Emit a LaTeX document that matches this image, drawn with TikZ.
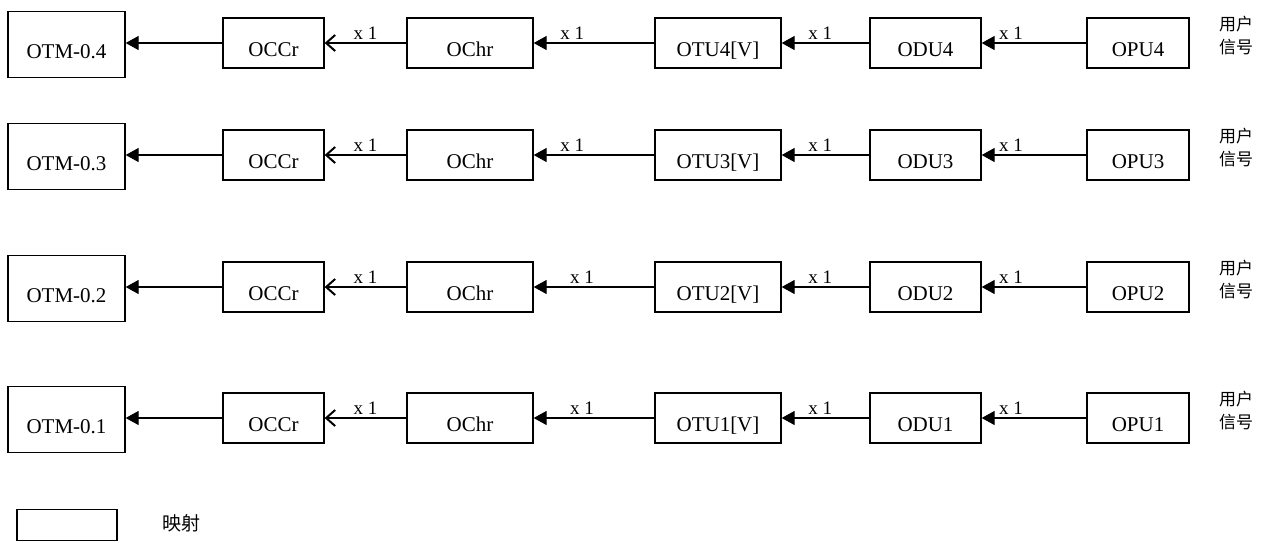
\documentclass[tikz,border=0pt]{standalone}
\usepackage{fontspec}
\setmainfont{Liberation Serif}
\newfontfamily\cjk{Noto Sans CJK SC}
\usetikzlibrary{arrows.meta}
\begin{document}
\begin{tikzpicture}[x=1pt,y=-1pt,
  box/.style={draw, line width=1.3pt, minimum height=50pt, inner sep=0pt,
    text height=27pt, text depth=0pt,
    font=\fontsize{21}{24}\selectfont},
  bigbox/.style={box, minimum height=66pt},
  filled/.style={line width=1.3pt, -{Triangle[length=13pt,width=14pt]}},
  barb/.style={line width=1.3pt, -{Straight Barb[length=9pt,width=16pt,line width=2pt]}},
  lbl/.style={above, inner sep=3pt, font=\fontsize{19}{21}\selectfont},
  usr/.style={align=center, inner sep=0pt, font=\cjk\fontsize{17}{23}\selectfont},
]
\fill[white] (0,0) rectangle (1278,542);
\useasboundingbox (0,0) rectangle (1278,542);

\foreach \n/\y/\q in {4/43/0.68, 3/155/0.68, 2/287/0.6, 1/418/0.6}{
  \node[bigbox, minimum width=117pt] (otm\n) at (66.5,\y+1.5) {OTM-0.\n};
  \node[box, minimum width=101pt] (occr\n) at (273.5,\y) {OCCr};
  \node[box, minimum width=126pt] (ochr\n) at (470,\y) {OChr};
  \node[box, minimum width=126pt] (otu\n) at (718,\y) {OTU\n[V]};
  \node[box, minimum width=111pt] (odu\n) at (925.5,\y) {ODU\n};
  \node[box, minimum width=102pt] (opu\n) at (1138,\y) {OPU\n};
  \node[usr] (usr\n) at (1236,\y-7) {用户\\信号};
  \draw[filled] (occr\n.west) -- (occr\n.west -| otm\n.east);
  \draw[barb] (ochr\n) -- node[lbl, pos=0.5] {x 1} (occr\n);
  \draw[filled] (otu\n) -- node[lbl, pos=\q] {x 1} (ochr\n);
  \draw[filled] (odu\n) -- node[lbl, pos=0.56] {x 1} (otu\n);
  \draw[filled] (opu\n) -- node[lbl, pos=0.72] {x 1} (odu\n);
}

\node[draw, line width=1.3pt, minimum width=100pt, minimum height=31pt, inner sep=0pt] (leg) at (67,525) {};
\node[font=\cjk\fontsize{19}{22}\selectfont, inner sep=0pt] (legtxt) at (181,523) {映射};
\end{tikzpicture}
\end{document}
